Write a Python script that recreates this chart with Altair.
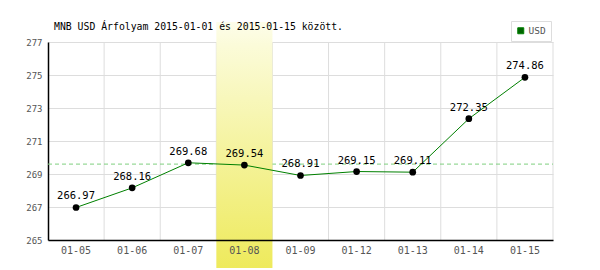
import altair as alt
import pandas as pd

dates = ["01-05", "01-06", "01-07", "01-08", "01-09", "01-12", "01-13", "01-14", "01-15"]
values = [266.97, 268.16, 269.68, 269.54, 268.91, 269.15, 269.11, 272.35, 274.86]
highlight = ["01-08"]
ref_value = [269.6]
y_ticks = [265, 267, 269, 271, 273, 275, 277]
series = "USD"
title_text = "MNB USD Árfolyam 2015-01-01 és 2015-01-15 között."

df = pd.DataFrame({"date": dates, "value": values, "series": series,
                   "label": [f"{v:.2f}" for v in values]})
hl = pd.DataFrame({"date": highlight})
ref = pd.DataFrame({"value": ref_value})
grid_df = pd.DataFrame({"date": dates[1:]})
last_df = pd.DataFrame({"date": dates[-1:]})

FONT = "DejaVu Sans Mono"

xscale = alt.Scale(type="band", domain=dates, paddingInner=0, paddingOuter=0)
yscale = alt.Scale(domain=[265, 277], nice=False, zero=False)

xaxis = alt.Axis(title=None, labelFont=FONT, labelFontSize=10, labelColor="#555",
                 domainColor="#000", domainWidth=1.5, ticks=False, labelPadding=5,
                 grid=False, labelAngle=0, zindex=1)
yaxis = alt.Axis(title=None, values=y_ticks, labelFont=FONT, labelFontSize=9,
                 labelColor="#555", domainColor="#000", domainWidth=1.5, ticks=False,
                 labelPadding=6, grid=True, gridColor="#ddd", gridWidth=1,
                 labelOverlap=False)


def X(**kw):
    return alt.X("date:N", scale=xscale, sort=dates, axis=xaxis, **kw)


def Y():
    return alt.Y("value:Q", scale=yscale, axis=yaxis)


vgrid = alt.Chart(grid_df).mark_rule(color="#ddd", strokeWidth=1).encode(
    x=X(bandPosition=0), y=alt.value(0), y2=alt.value(198))
vgrid_last = alt.Chart(last_df).mark_rule(color="#ddd", strokeWidth=1).encode(
    x=X(bandPosition=1), y=alt.value(0), y2=alt.value(198))

refline = alt.Chart(ref).mark_rule(color="#7fcf7f", strokeDash=[4, 3], strokeWidth=1).encode(
    y=Y(), x=alt.value(0), x2=alt.value(505))

grad = alt.LinearGradient(gradient="linear", x1=0, y1=0, x2=0, y2=1,
                          stops=[alt.GradientStop(offset=0, color="#fdfdea"),
                                 alt.GradientStop(offset=0.1, color="#fbfbd8"),
                                 alt.GradientStop(offset=1, color="#eeea5c")])
band = alt.Chart(hl).mark_rect(fill=grad).encode(
    x=X(), y=alt.value(-20), y2=alt.value(226))

line = alt.Chart(df).mark_line(strokeWidth=1).encode(
    x=X(), y=Y(),
    color=alt.Color("series:N", scale=alt.Scale(domain=[series], range=["#008000"]),
                    legend=alt.Legend(title=None, orient="none", legendX=463, legendY=-21,
                                      symbolType="square", symbolSize=36, symbolFillColor="#006400",
                                      symbolStrokeColor="#333", symbolStrokeWidth=1,
                                      labelFont=FONT, labelFontSize=9.5, labelColor="#555",
                                      labelOffset=3, strokeColor="#ddd", padding=5,
                                      fillColor="white")))
points = alt.Chart(df).mark_point(filled=True, color="#000", size=45, opacity=1).encode(
    x=X(), y=Y())
labels = alt.Chart(df).mark_text(font=FONT, fontSize=10.5, dy=-11, color="#000").encode(
    x=X(), y=Y(), text="label:N")

chart = alt.layer(vgrid, vgrid_last, refline, band, line, points, labels).properties(
    width=505, height=198,
    autosize=alt.AutoSizeParams(type="none"),
    padding={"left": 48, "top": 42, "right": 47, "bottom": 30},
    title=alt.TitleParams(title_text, anchor="start", frame="group", font=FONT, fontSize=9.8,
                          fontWeight="normal", color="#000", offset=12, dx=6, dy=23),
).configure_view(stroke=None)

chart.save("out.html", embed_options={"renderer": "svg", "actions": False})
